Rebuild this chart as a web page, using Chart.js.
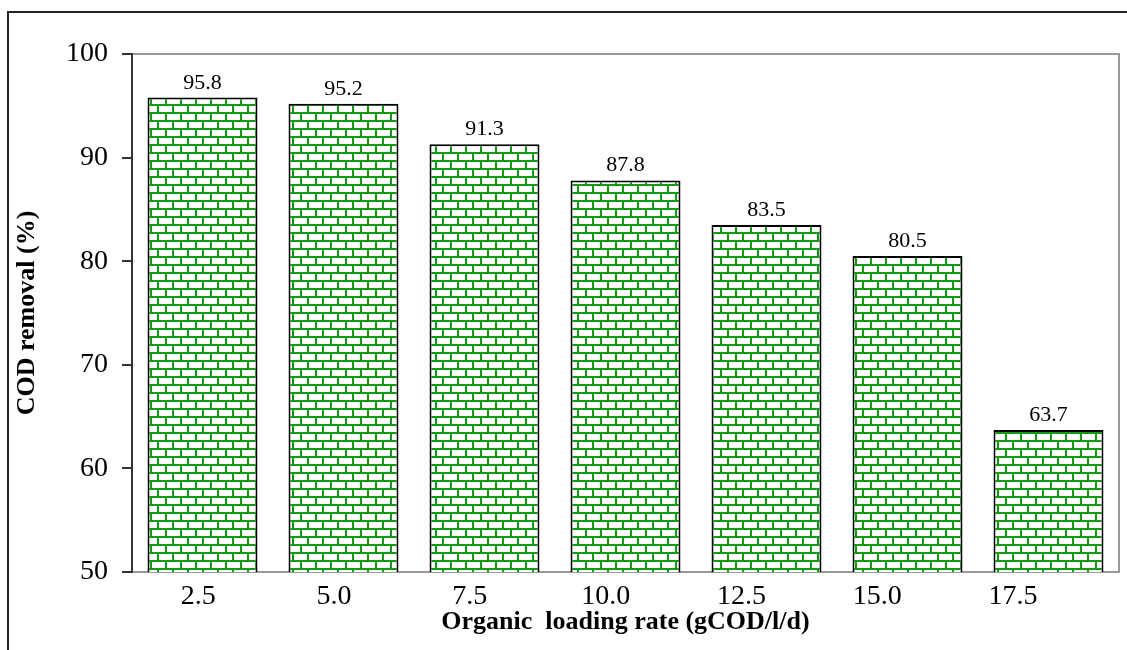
<!DOCTYPE html>
<html>
<head>
<meta charset="utf-8">
<script src="https://cdn.jsdelivr.net/npm/chart.js@4.4.1/dist/chart.umd.min.js"></script>
<style>
  html, body { margin: 0; padding: 0; background: #fff; }
</style>
</head>
<body>
<canvas id="codChart" width="1127" height="650"></canvas>
<script>
// OLR steps and COD removal efficiency
const loadingRates = ['2.5', '5.0', '7.5', '10.0', '12.5', '15.0', '17.5'];
const codRemoval = [95.8, 95.2, 91.3, 87.8, 83.5, 80.5, 63.7];
const yRange = [50, 100];
const yStep = 10;
// index range of the label axis (labels are a bit tighter than the bars)
const labelRange = [-0.4875, 6.78];

const serif = "'Liberation Serif', 'Times New Roman', serif";

// brick hatch used as the bar fill
function brickPattern(ctx) {
    const tile = document.createElement('canvas');
    tile.width = 30;
    tile.height = 16;
    const t = tile.getContext('2d');
    t.fillStyle = '#fff';
    t.fillRect(0, 0, 30, 16);
    t.fillStyle = '#109c10';
    t.fillRect(0, 0, 30, 2);
    t.fillRect(0, 8, 30, 2);
    t.fillRect(0, 0, 2, 8);
    t.fillRect(15, 0, 2, 8);
    t.fillRect(7, 8, 2, 8);
    t.fillRect(22, 8, 2, 8);
    return ctx.createPattern(tile, 'repeat');
}

// outer frame of the figure plus the grey plot box
const framePlugin = {
    id: 'frame',
    beforeDraw(chart) {
        const ctx = chart.ctx;
        ctx.save();
        ctx.fillStyle = '#fff';
        ctx.fillRect(0, 0, chart.width, chart.height);
        ctx.strokeStyle = '#222';
        ctx.lineWidth = 2;
        ctx.beginPath();
        ctx.moveTo(8, chart.height);
        ctx.lineTo(8, 12);
        ctx.lineTo(chart.width, 12);
        ctx.stroke();

        const a = chart.chartArea;
        ctx.strokeStyle = '#999';
        ctx.lineWidth = 2;
        ctx.beginPath();
        ctx.moveTo(a.left, a.top);
        ctx.lineTo(a.right, a.top);
        ctx.lineTo(a.right, a.bottom);
        ctx.lineTo(a.left, a.bottom);
        ctx.stroke();
        ctx.restore();
    }
};

// value printed above every bar
const valueLabels = {
    id: 'valueLabels',
    afterDatasetsDraw(chart) {
        const ctx = chart.ctx;
        const meta = chart.getDatasetMeta(0);
        ctx.save();
        ctx.font = '22px ' + serif;
        ctx.fillStyle = '#000';
        ctx.textAlign = 'center';
        ctx.textBaseline = 'alphabetic';
        meta.data.forEach((bar, i) => {
            ctx.fillText(codRemoval[i].toFixed(1), bar.x, bar.y - 9);
        });
        ctx.restore();
    }
};

const canvas = document.getElementById('codChart');
const ctx = canvas.getContext('2d');

new Chart(ctx, {
    type: 'bar',
    data: {
        labels: loadingRates,
        datasets: [{
            data: codRemoval,
            backgroundColor: brickPattern(ctx),
            borderColor: '#000',
            borderWidth: 2,
            borderSkipped: false,
            barPercentage: 0.78,
            categoryPercentage: 1
        }]
    },
    options: {
        responsive: false,
        devicePixelRatio: 1,
        animation: false,
        layout: { padding: { left: 8, top: 54, right: 8, bottom: 0 } },
        plugins: {
            legend: { display: false },
            tooltip: { enabled: false }
        },
        scales: {
            x: {
                position: 'bottom',
                grid: { display: false },
                border: { display: false },
                ticks: { display: false },
                afterFit(scale) { scale.height = 0; }
            },
            xLab: {
                type: 'linear',
                axis: 'x',
                position: 'bottom',
                bounds: 'data',
                min: labelRange[0],
                max: labelRange[1],
                offset: false,
                grid: { display: false, drawTicks: false },
                border: { display: false },
                afterBuildTicks(scale) {
                    scale.ticks = loadingRates.map((_, i) => ({ value: i }));
                    scale.min = labelRange[0];
                    scale.max = labelRange[1];
                },
                ticks: {
                    padding: 8,
                    color: '#000',
                    maxRotation: 0,
                    autoSkip: false,
                    includeBounds: false,
                    font: { family: serif, size: 28 },
                    callback: v => loadingRates[v]
                },
                title: {
                    display: true,
                    text: 'Organic  loading rate (gCOD/l/d)',
                    color: '#000',
                    font: { family: serif, size: 26, weight: 'bold' },
                    padding: { top: 0, bottom: 12 }
                },
                afterFit(scale) { scale.height = 78; }
            },
            y: {
                min: yRange[0],
                max: yRange[1],
                grid: {
                    drawOnChartArea: false,
                    drawTicks: true,
                    tickLength: 10,
                    color: '#333',
                    lineWidth: 2
                },
                border: { display: true, color: '#333', width: 2 },
                ticks: {
                    stepSize: yStep,
                    padding: 14,
                    color: '#000',
                    font: { family: serif, size: 28 }
                },
                title: {
                    display: true,
                    text: 'COD removal (%)',
                    color: '#000',
                    font: { family: serif, size: 26, weight: 'bold' },
                    padding: { top: 4, bottom: 0 }
                },
                afterFit(scale) { scale.width = 124; }
            }
        }
    },
    plugins: [framePlugin, valueLabels]
});
</script>
</body>
</html>
